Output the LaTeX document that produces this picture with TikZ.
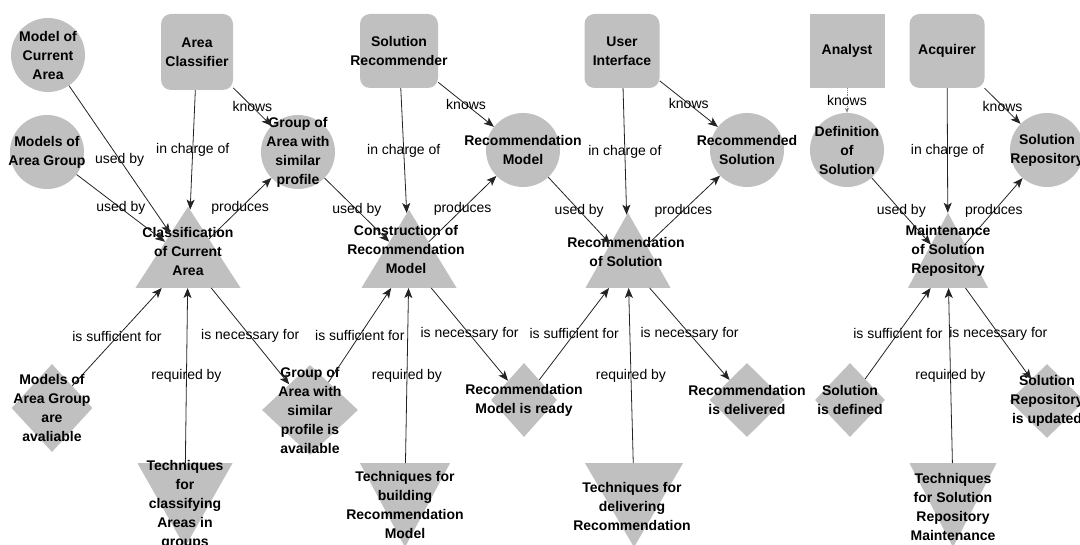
\documentclass[tikz,border=0pt]{standalone}
\usepackage{fontspec}
\setmainfont{Liberation Sans}
\usetikzlibrary{shapes.geometric,arrows.meta}

\definecolor{boxgray}{RGB}{192,192,192}
\definecolor{edgegray}{RGB}{35,35,35}

\begin{document}
\begin{tikzpicture}[x=1pt,y=-1pt,
    every node/.style={inner sep=0pt,align=center,font=\fontsize{14}{19}\selectfont\bfseries},
    resource/.style={circle,fill=boxgray,minimum size=74pt},
    actor/.style={rectangle,rounded corners=10pt,fill=boxgray,minimum width=75pt,minimum height=74pt},
    goal/.style={isosceles triangle,isosceles triangle stretches,shape border rotate=90,fill=boxgray,anchor=lower side},
    technique/.style={isosceles triangle,isosceles triangle stretches,shape border rotate=270,fill=boxgray,anchor=lower side,minimum height=84pt},
    condition/.style={diamond,fill=boxgray},
    rel/.style={font=\fontsize{14}{17}\selectfont,text=black}]
  \useasboundingbox (0,0) rectangle (1080,545);
  \clip (0,0) rectangle (1080,545);

  % actors
  \node[actor,minimum width=72pt,minimum height=76pt,label={center:Area\\Classifier}] (A1) at (197,52) {};
  \node[actor,minimum width=78pt,label={center:Solution\\Recommender}] (A2) at (399,51) {};
  \node[actor,label={center:User\\Interface}] (A3) at (622,51) {};
  \node[actor,sharp corners,label={center:Analyst}] (A4) at (847,51) {};
  \node[actor,label={center:Acquirer}] (A5) at (947,51) {};

  % resources
  \foreach \x/\y/\txt [count=\n] in {48/55/{Model of\\Current\\Area},47/152/{Models of\\Area Group},
      298/152/{Group of\\Area with\\similar\\profile},523/150/{Recommendation\\Model},
      747/150/{Recommended\\Solution},847/150/{Definition\\of\\Solution},1047/150/{Solution\\Repository}}
    \node[resource,label={center:\txt}] (R\n) at (\x,\y) {};

  % goals
  \foreach \x/\w/\h [count=\n] in {188/105/81,409/95/78,628/85/75,948/80/75}
    \node[goal,minimum width=\w pt,minimum height=\h pt] (G\n) at (\x,288) {};
  \node (G1t) at (188,251) {Classification\\of Current\\Area};
  \node (G2t) at (406,249) {Construction of\\Recommendation\\Model};
  \node (G3t) at (626,252) {Recommendation\\of Solution};
  \node (G4t) at (948,251) {Maintenance\\of Solution\\Repository};

  % conditions
  \node[condition,minimum width=81pt,minimum height=88pt,label={center:Models of\\Area Group\\are\\avaliable}] (S1) at (52,408) {};
  \node[condition,minimum width=96pt,minimum height=90pt,label={center:Group of\\Area with\\similar\\profile is\\available}] (S2) at (310,410) {};
  \node[condition,minimum width=66pt,minimum height=74pt,label={center:Recommendation\\Model is ready}] (S3) at (524,400) {};
  \node[condition,minimum width=75pt,minimum height=74pt,label={center:Recommendation\\is delivered}] (S4) at (747,400) {};
  \node[condition,minimum width=70pt,minimum height=74pt,label={center:Solution\\is defined}] (S5) at (850,400) {};
  \node[condition,minimum width=75pt,minimum height=74pt,label={center:Solution\\Repository\\is updated}] (S6) at (1047,401) {};

  % techniques
  \foreach \x/\w [count=\n] in {185/95,405/90,634/98,953/87}
    \node[technique,minimum width=\w pt] (T\n) at (\x,463) {};
  \node (T1t) at (185,505) {Techniques\\for\\classifying\\Areas in\\groups};
  \node (T2t) at (405,505) {Techniques for\\building\\Recommendation\\Model};
  \node (T3t) at (632,506) {Techniques for\\delivering\\Recommendation};
  \node (T4t) at (953,507) {Techniques\\for Solution\\Repository\\Maintenance};

  \path[->,>={Stealth[length=10pt,width=8pt,inset=2.5pt]},every edge/.style={draw=edgegray,line width=0.8pt}]
    (R1) edge node[rel] {used by} (G1)
    (R2) edge node[rel] {used by} (G1)
    (A1) edge node[rel] {in charge of} (G1)
    (A1) edge node[rel] {knows} (R3)
    (G1) edge node[rel] {produces} (R3)
    (S1) edge node[rel] {is sufficient for} (G1)
    (T1) edge node[rel] {required by} (G1)
    (G1) edge node[rel] {is necessary for} (S2)

    (R3) edge node[rel] {used by} (G2)
    (A2) edge node[rel] {in charge of} (G2)
    (A2) edge node[rel] {knows} (R4)
    (G2) edge node[rel] {produces} (R4)
    (S2) edge node[rel] {is sufficient for} (G2)
    (T2) edge node[rel] {required by} (G2)
    (G2) edge node[rel] {is necessary for} (S3)

    (R4) edge node[rel] {used by} (G3)
    (A3) edge node[rel] {in charge of} (G3)
    (A3) edge node[rel] {knows} (R5)
    (G3) edge node[rel] {produces} (R5)
    (S3) edge node[rel] {is sufficient for} (G3)
    (T3) edge node[rel] {required by} (G3)
    (G3) edge node[rel] {is necessary for} (S4)

    (A4) edge[densely dotted,draw=gray,>={Stealth[length=5pt,width=4pt]}] node[rel] {knows} (R6)
    (R6) edge node[rel] {used by} (G4)
    (A5) edge node[rel] {in charge of} (G4)
    (A5) edge node[rel] {knows} (R7)
    (G4) edge node[rel] {produces} (R7)
    (S5) edge node[rel] {is sufficient for} (G4)
    (T4) edge node[rel] {required by} (G4)
    (G4) edge node[rel] {is necessary for} (S6);
\end{tikzpicture}
\end{document}
